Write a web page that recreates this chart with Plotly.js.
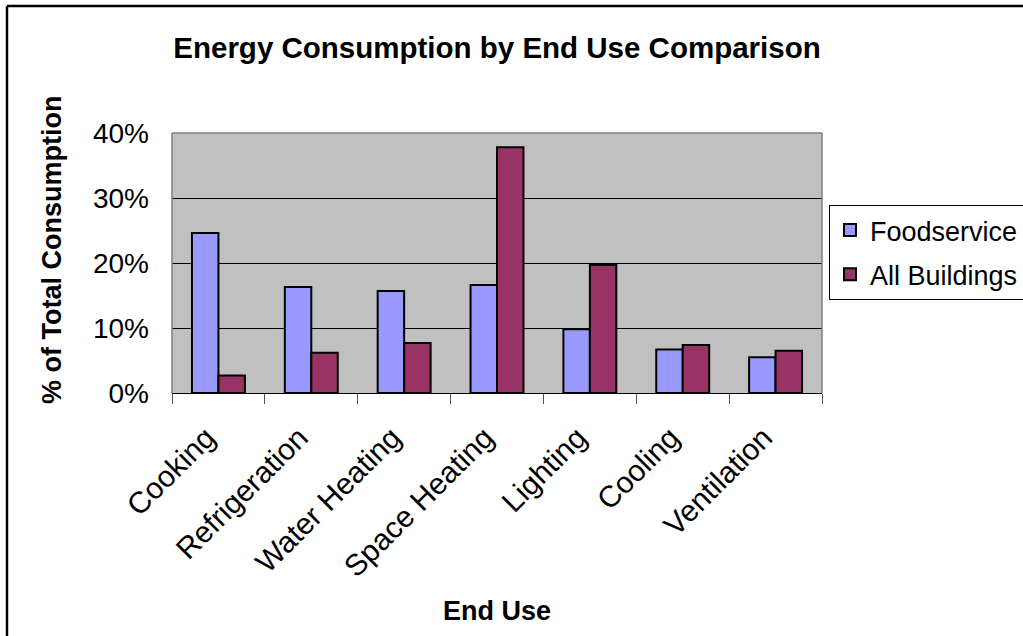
<!DOCTYPE html>
<html>
<head>
<meta charset="utf-8">
<script src="https://cdn.plot.ly/plotly-3.0.1.min.js"></script>
<style>html,body{margin:0;padding:0;background:#fff;}#chart{width:1023px;height:636px;}</style>
</head>
<body>
<div id="chart"></div>
<script>
const categories = ["Cooking", "Refrigeration", "Water Heating", "Space Heating", "Lighting", "Cooling", "Ventilation"];
const foodservice = [0.246, 0.163, 0.157, 0.166, 0.098, 0.067, 0.055];
const allBuildings = [0.027, 0.062, 0.077, 0.378, 0.197, 0.074, 0.065];
const seriesNames = ["Foodservice", "All Buildings"];
const yTickVals = [0, 0.1, 0.2, 0.3, 0.4];
const yTickText = ["0%", "10%", "20%", "30%", "40%"];

const FONT = "Arial, 'Liberation Sans', sans-serif";
const W = 1023, H = 636;
const L = 172, R = 822, T = 133, B = 393;
const px = v => (v - L) / (R - L);
const py = v => (B - v) / (B - T);

const traces = [
  {type: "bar", name: seriesNames[0], x: categories, y: foodservice, legendgroup: "a",
   marker: {color: "#9999FF", line: {color: "#000", width: 2}}, hoverinfo: "x+y"},
  {type: "bar", name: seriesNames[1], x: categories, y: allBuildings, legendgroup: "b",
   marker: {color: "#993366", line: {color: "#000", width: 2}}, hoverinfo: "x+y"}
];

const layout = {
  width: W, height: H,
  margin: {l: L, r: W - R, t: T, b: H - B, pad: 0},
  paper_bgcolor: "#fff",
  plot_bgcolor: "#C0C0C0",
  font: {family: FONT, color: "#000"},
  barmode: "group",
  bargap: 0.43,
  bargroupgap: 0,
  showlegend: true,
  title: {text: "<b>Energy Consumption by End Use Comparison</b>", font: {size: 29.5, family: FONT, color: "#000"},
          x: px(497), xref: "paper", xanchor: "center", y: 1 - 48 / H, yref: "container", yanchor: "middle"},
  xaxis: {
    type: "category",
    showgrid: false,
    showline: true, linecolor: "#000", linewidth: 1,
    ticks: "outside", tickson: "boundaries", ticklen: 10, tickcolor: "#555", tickwidth: 1,
    tickangle: -45,
    tickfont: {size: 30, family: FONT, color: "#000"},
    ticklabelstandoff: 14,
    ticklabelshift: -12,
    zeroline: false, fixedrange: true
  },
  yaxis: {
    range: [0, 0.4],
    tickvals: yTickVals, ticktext: yTickText,
    showgrid: true, gridcolor: "#000", gridwidth: 1,
    showline: false, zeroline: false,
    ticks: "",
    tickfont: {size: 28, family: FONT, color: "#000"},
    ticklabelstandoff: 22,
    fixedrange: true
  },
  legend: {
    x: 829 / W, xref: "container", xanchor: "left",
    y: 1 - 205 / H, yref: "container", yanchor: "top",
    bgcolor: "#fff", bordercolor: "#000", borderwidth: 1,
    font: {size: 27, family: FONT, color: "#000"},
    traceorder: "grouped", tracegroupgap: 6,
    itemwidth: 30,
    itemclick: false, itemdoubleclick: false
  },
  annotations: [
    {text: "<b>% of Total Consumption</b>", textangle: -90, showarrow: false,
     xref: "paper", yref: "paper", x: px(52), y: py(250), xanchor: "center", yanchor: "middle",
     font: {size: 27, family: FONT, color: "#000"}},
    {text: "<b>End Use</b>", showarrow: false,
     xref: "paper", yref: "paper", x: px(497), y: py(611), xanchor: "center", yanchor: "middle",
     font: {size: 27, family: FONT, color: "#000"}}
  ],
  shapes: [
    {type: "line", xref: "paper", yref: "paper", x0: 0, x1: 0, y0: 0, y1: 1, line: {color: "#808080", width: 1.5}},
    {type: "line", xref: "paper", yref: "paper", x0: 0, x1: 1, y0: 1, y1: 1, line: {color: "#808080", width: 1.5}},
    {type: "line", xref: "paper", yref: "paper", x0: 1, x1: 1, y0: 0, y1: 1, line: {color: "#808080", width: 1.5}},
    {type: "line", xref: "paper", yref: "paper", x0: px(7), x1: px(1040), y0: py(6), y1: py(6), line: {color: "#000", width: 2.5}},
    {type: "line", xref: "paper", yref: "paper", x0: px(7), x1: px(7), y0: py(6), y1: py(660), line: {color: "#000", width: 2.5}}
  ]
};

Plotly.newPlot("chart", traces, layout, {displayModeBar: false, staticPlot: true});
</script>
</body>
</html>
